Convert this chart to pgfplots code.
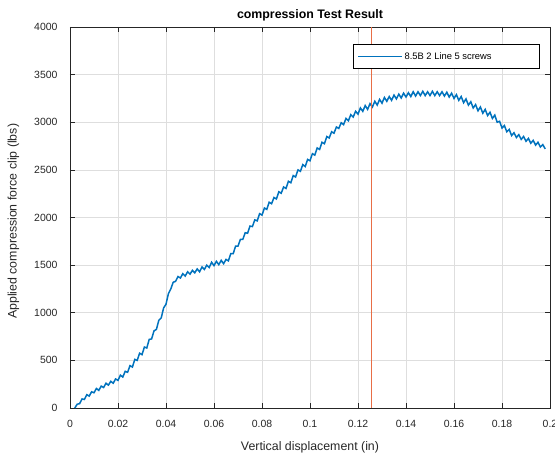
\documentclass[border=0pt]{standalone}
\usepackage{pgfplots}
\pgfplotsset{compat=1.18}
\usepackage{fontspec}
\setmainfont{Liberation Sans}
\definecolor{mblue}{RGB}{0,114,189}
\definecolor{morange}{RGB}{232,110,70}
\definecolor{axcol}{RGB}{38,38,38}
\definecolor{gridcol}{RGB}{222,222,222}
\begin{document}
\begin{tikzpicture}
\begin{axis}[
  name=ax,
  scale only axis,
  width=480bp, height=381bp,
  xmin=0, xmax=0.2, ymin=0, ymax=4000,
  xtick={0,0.02,...,0.2},
  xticklabels={0,0.02,0.04,0.06,0.08,0.1,0.12,0.14,0.16,0.18,0.2},
  ytick={0,500,...,4000},
  yticklabels={0,500,1000,1500,2000,2500,3000,3500,4000},
  scaled ticks=false,
  /pgf/number format/assume math mode=true,
  tick label style={font=\fontsize{10.5}{12}\selectfont, color=axcol},
  xticklabel style={yshift=-9bp},
  yticklabel style={xshift=-9bp},
  grid=major,
  major grid style={gridcol, line width=0.6bp},
  tick align=inside,
  major tick length=5bp,
  tick style={axcol, line width=0.6bp},
  axis line style={axcol, line width=0.7bp},
  xlabel={Vertical displacement (in)},
  ylabel={Applied compression force clip (lbs)},
  label style={font=\fontsize{12.4}{14}\selectfont, color=axcol},
  xlabel style={at={(axis description cs:0.5,-0.1128)}, anchor=base},
  ylabel style={at={(axis description cs:-0.118,0.49)}, anchor=center},
  every axis title shift=0pt,
  title={compression Test Result},
  title style={font=\bfseries\fontsize{12.4}{14}\selectfont, at={(axis description cs:0.5,1.0228)}, anchor=base},
  legend style={at={(0.979,0.955)}, anchor=north east, draw=black, line width=0.6bp,
    font=\fontsize{9.4}{11}\selectfont, inner xsep=5bp, inner ysep=6bp, cells={anchor=west}},
  legend image code/.code={\draw[#1, line width=0.6bp] (0bp,0bp) -- (44bp,0bp);},
]
\addplot[mblue, line width=1.5bp] coordinates {
(0.002,0) (0.003,40) (0.004,45) (0.005,95) (0.006,90) (0.007,140) (0.008,125) (0.009,170)
(0.010,160) (0.011,205) (0.012,185) (0.013,230) (0.014,215) (0.015,260) (0.016,240) (0.017,280)
(0.018,260) (0.019,305) (0.020,290) (0.021,345) (0.022,325) (0.023,385) (0.024,375) (0.025,445)
(0.026,430) (0.027,510) (0.028,500) (0.029,575) (0.030,560) (0.031,640) (0.032,630) (0.033,720)
(0.034,725) (0.035,810) (0.036,825) (0.037,920) (0.038,945) (0.039,1050) (0.040,1090) (0.041,1200)
(0.042,1250) (0.043,1320) (0.044,1330) (0.045,1380) (0.046,1365) (0.047,1410) (0.048,1385) (0.049,1430)
(0.050,1405) (0.051,1445) (0.052,1420) (0.053,1460) (0.054,1430) (0.055,1480) (0.056,1455) (0.057,1500)
(0.058,1475) (0.059,1530) (0.060,1495) (0.061,1540) (0.062,1505) (0.063,1550) (0.064,1515) (0.065,1560)
(0.066,1545) (0.067,1620) (0.068,1620) (0.069,1700) (0.070,1700) (0.071,1770) (0.072,1770) (0.073,1840)
(0.074,1835) (0.075,1910) (0.076,1905) (0.077,1975) (0.078,1965) (0.079,2040) (0.080,2025) (0.081,2100)
(0.082,2085) (0.083,2160) (0.084,2145) (0.085,2210) (0.086,2195) (0.087,2270) (0.088,2255) (0.089,2320)
(0.090,2305) (0.091,2380) (0.092,2365) (0.093,2440) (0.094,2425) (0.095,2500) (0.096,2485) (0.097,2555)
(0.098,2535) (0.099,2610) (0.100,2595) (0.101,2670) (0.102,2655) (0.103,2730) (0.104,2715) (0.105,2790)
(0.106,2775) (0.107,2850) (0.108,2835) (0.109,2900) (0.110,2885) (0.111,2950) (0.112,2935) (0.113,2995)
(0.114,2975) (0.115,3040) (0.116,3015) (0.117,3080) (0.118,3055) (0.119,3115) (0.120,3085) (0.121,3150)
(0.122,3115) (0.123,3175) (0.124,3135) (0.125,3195) (0.126,3160) (0.127,3220) (0.128,3180) (0.129,3240)
(0.130,3200) (0.131,3260) (0.132,3220) (0.133,3270) (0.134,3230) (0.135,3285) (0.136,3245) (0.137,3295)
(0.138,3255) (0.139,3305) (0.140,3265) (0.141,3310) (0.142,3270) (0.143,3320) (0.144,3275) (0.145,3320)
(0.146,3280) (0.147,3325) (0.148,3280) (0.149,3320) (0.150,3280) (0.151,3325) (0.152,3280) (0.153,3320)
(0.154,3280) (0.155,3320) (0.156,3275) (0.157,3315) (0.158,3265) (0.159,3305) (0.160,3250) (0.161,3290)
(0.162,3230) (0.163,3270) (0.164,3205) (0.165,3245) (0.166,3180) (0.167,3215) (0.168,3150) (0.169,3185)
(0.170,3120) (0.171,3160) (0.172,3095) (0.173,3135) (0.174,3070) (0.175,3105) (0.176,3040) (0.177,3075)
(0.178,3000) (0.179,3010) (0.180,2940) (0.181,2965) (0.182,2900) (0.183,2925) (0.184,2860) (0.185,2890)
(0.186,2840) (0.187,2870) (0.188,2820) (0.189,2850) (0.190,2800) (0.191,2830) (0.192,2780) (0.193,2810)
(0.194,2760) (0.195,2790) (0.196,2740) (0.197,2765) (0.198,2720)
};
\addlegendentry{\makebox[128bp][l]{8.5B 2 Line 5 screws}}
\draw[morange, line width=1.3bp] (axis cs:0.1255,0) -- (axis cs:0.1255,4000);
\end{axis}
\pgfresetboundingbox
\path ([shift={(-70bp,-50bp)}]ax.south west) rectangle ([shift={(5bp,27bp)}]ax.north east);
\end{tikzpicture}
\end{document}
